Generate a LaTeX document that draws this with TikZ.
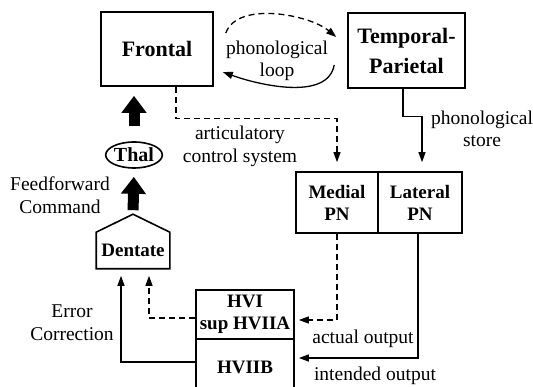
\documentclass[tikz,border=0pt]{standalone}
\usepackage{fontspec}
\setmainfont{Liberation Serif}
\usetikzlibrary{arrows.meta,
                shapes.geometric, % For the Thal ellipse
               }
\tikzstyle{block} = [rectangle, draw=black, line width=1.6pt, inner sep=0pt, align=center, font=\fontsize{19}{22}\selectfont\bfseries]
\tikzstyle{bigblock} = [block, font=\fontsize{22}{30}\selectfont\bfseries]
\tikzstyle{txt} = [align=center, inner sep=0pt, font=\fontsize{19.5}{22.5}\selectfont]
\tikzstyle{link} = [line width=1.3pt, -{Triangle[length=10pt,width=7pt]}]
\tikzstyle{dashlink} = [link, dash pattern=on 6pt off 4pt]
\tikzstyle{fatarrow} = [line width=11pt, -{Triangle[length=17pt,width=24pt]}]

\begin{document}
\begin{tikzpicture}[x=1pt,y=-1pt]
  \useasboundingbox (0,0) rectangle (533,387);
  \node (frontal) [bigblock, minimum width=112pt, minimum height=74pt] at (157,49) {Frontal};
  \node (tp) [bigblock, minimum width=117pt, minimum height=75pt] at (406.5,50.5) {Temporal-\\Parietal};
  \node (medial) [block, minimum width=82pt, minimum height=61pt] at (337,202.5) {Medial\\PN};
  \node (lateral) [block, minimum width=84pt, minimum height=61pt] at (420,202.5) {Lateral\\PN};
  \node (thal) [block, ellipse, minimum width=55pt, minimum height=26pt, font=\fontsize{20}{22}\selectfont\bfseries] at (134,155) {Thal};
  \node (dentate) [block, draw=none, minimum width=72pt, minimum height=35pt] at (133,250.5) {Dentate};
  \coordinate (roof) at ([yshift=18pt]dentate.north);
  \draw [line width=1.6pt] (dentate.north west) -- (dentate.south west) -- (dentate.south east) -- (dentate.north east) -- (roof) -- cycle;
  \node (hvi) [block, minimum width=98pt, minimum height=49pt] at (245,314.5) {HVI\\sup HVIIA};
  \node (hviib) [block, minimum width=98pt, minimum height=56pt] at (245,367) {HVIIB};

  % phonological loop
  \draw [dashlink] ([shift={(12pt,16pt)}]frontal.east) to[out=70, in=140, looseness=0.8] ([shift={(-11pt,13.5pt)}]tp.west);
  \draw [link] ([shift={(-13pt,-14.5pt)}]tp.west) to[out=-100, in=-20, looseness=0.85] ([shift={(9pt,-23pt)}]frontal.east);
  \node (loop) [txt] at (277,61) {phonological\\loop};

  \draw [dashlink] ([xshift=19pt]frontal.south) -- ++(0,32) -| ([yshift=9pt]medial.north);
  \node (acs) [txt] at (240,146.5) {articulatory\\control system};
  \draw [link] ([xshift=-3.5pt]tp.south) -- ++(0,28) -| ([shift={(2pt,9pt)}]lateral.north);
  \node (store) [txt] at (482,129) {phonological\\store};

  \draw [dashlink] (medial.south) |- ([shift={(4pt,-5.5pt)}]hvi.east);
  \node (actual) [txt] at (363,339) {actual output};
  \draw [link] ([xshift=-2pt]lateral.south) |- ([shift={(4pt,9pt)}]hviib.east);
  \node (intended) [txt] at (375,376) {intended output};

  \draw [dashlink] ([yshift=-3.5pt]hvi.west) -| ([shift={(16pt,-7pt)}]dentate.south);
  \draw [link] ([yshift=5pt]hviib.west) -| ([shift={(-12pt,-7pt)}]dentate.south);
  \node (error) [txt] at (72,322.5) {Error\\Correction};

  \draw [fatarrow, shorten <=4pt, shorten >=8pt] (roof) -- (thal.south);
  \draw [fatarrow, shorten <=15pt, shorten >=9pt] (thal.north) -- (thal.north |- frontal.south);
  \node (ff) [txt] at (60,195) {Feedforward\\Command};
\end{tikzpicture}
\end{document}
